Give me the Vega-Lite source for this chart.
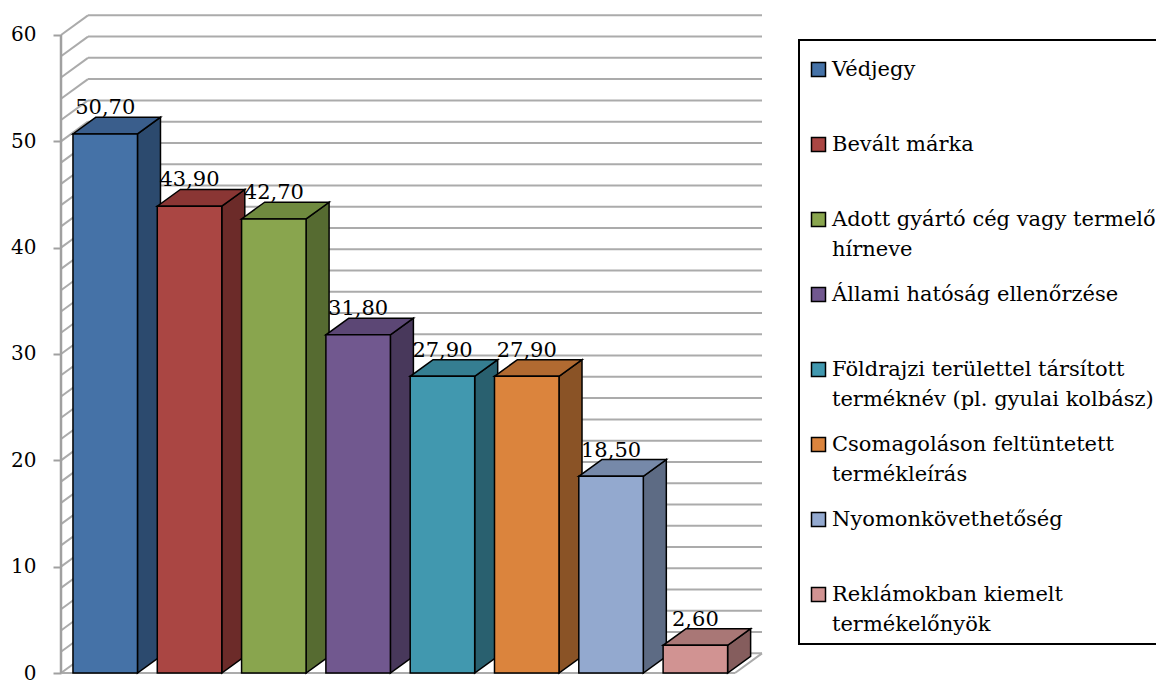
{
  "$schema": "https://vega.github.io/schema/vega-lite/v6.json",
  "width": 701,
  "height": 658,
  "autosize": {"type": "none"},
  "padding": {"left": 61, "top": 15, "right": 394, "bottom": 9},
  "background": "white",
  "datasets": {
    "tenyezok": [
      {"kategoria": "Védjegy", "ertek": 50.7},
      {"kategoria": "Bevált márka", "ertek": 43.9},
      {"kategoria": "Adott gyártó cég vagy termelő hírneve", "ertek": 42.7},
      {"kategoria": "Állami hatóság ellenőrzése", "ertek": 31.8},
      {"kategoria": "Földrajzi területtel társított terméknév (pl. gyulai kolbász)", "ertek": 27.9},
      {"kategoria": "Csomagoláson feltüntetett termékleírás", "ertek": 27.9},
      {"kategoria": "Nyomonkövethetőség", "ertek": 18.5},
      {"kategoria": "Reklámokban kiemelt termékelőnyök", "ertek": 2.6}
    ],
    "racs": [
      {"g": 0}, {"g": 2}, {"g": 4}, {"g": 6}, {"g": 8}, {"g": 10}, {"g": 12}, {"g": 14},
      {"g": 16}, {"g": 18}, {"g": 20}, {"g": 22}, {"g": 24}, {"g": 26}, {"g": 28}, {"g": 30},
      {"g": 32}, {"g": 34}, {"g": 36}, {"g": 38}, {"g": 40}, {"g": 42}, {"g": 44}, {"g": 46},
      {"g": 48}, {"g": 50}, {"g": 52}, {"g": 54}, {"g": 56}, {"g": 58}, {"g": 60}
    ],
    "egy": [{}]
  },
  "layer": [
    {
      "data": {"name": "racs"},
      "transform": [{"calculate": "datum.g + 1.85", "as": "gy"}],
      "mark": {"type": "rule", "stroke": "#ABABAB", "strokeWidth": 2},
      "encoding": {
        "x": {"datum": 0.178, "type": "quantitative", "axis": null,
              "scale": {"domain": [-0.142, 8.173], "nice": false, "zero": false}},
        "x2": {"datum": 8.173},
        "y": {"field": "gy", "type": "quantitative", "title": null,
              "axis": {"values": [0, 10, 20, 30, 40, 50, 60], "title": null},
              "scale": {"domain": [0, 61.88], "nice": false, "zero": false}}
      }
    },
    {
      "data": {"name": "racs"},
      "transform": [{"calculate": "datum.g + 1.85", "as": "gy"}],
      "mark": {"type": "rule", "stroke": "#ABABAB", "strokeWidth": 2},
      "encoding": {
        "x": {"datum": -0.142, "type": "quantitative", "axis": null},
        "x2": {"datum": 0.178},
        "y": {"field": "g", "type": "quantitative", "title": null,
              "axis": {"values": [0, 10, 20, 30, 40, 50, 60], "title": null}},
        "y2": {"field": "gy"}
      }
    },
    {
      "data": {"name": "egy"},
      "mark": {"type": "rule", "stroke": "#ABABAB", "strokeWidth": 2},
      "encoding": {
        "x": {"datum": -0.142, "type": "quantitative", "axis": null},
        "x2": {"datum": 7.853},
        "y": {"datum": 0, "type": "quantitative", "title": null,
              "axis": {"values": [0, 10, 20, 30, 40, 50, 60], "title": null}}
      }
    },
    {
      "data": {"name": "egy"},
      "mark": {"type": "rule", "stroke": "#ABABAB", "strokeWidth": 2},
      "encoding": {
        "x": {"datum": 7.853, "type": "quantitative", "axis": null},
        "x2": {"datum": 8.173},
        "y": {"datum": 0, "type": "quantitative", "title": null,
              "axis": {"values": [0, 10, 20, 30, 40, 50, 60], "title": null}},
        "y2": {"datum": 1.85}
      }
    },
    {
      "data": {"name": "egy"},
      "mark": {"type": "rule", "stroke": "#A0A0A0", "strokeWidth": 2.5},
      "encoding": {
        "x": {"datum": -0.142, "type": "quantitative", "axis": null},
        "y": {"datum": 0, "type": "quantitative", "title": null,
              "axis": {"values": [0, 10, 20, 30, 40, 50, 60], "title": null}},
        "y2": {"datum": 60}
      }
    },
    {
      "data": {"name": "tenyezok"},
      "transform": [
        {"window": [{"op": "row_number", "as": "sorszam"}]},
        {"calculate": "datum.sorszam - 1 + 0.765", "as": "jobb"},
        {"calculate": "[0, 1]", "as": "k"},
        {"flatten": ["k"]},
        {"calculate": "datum.jobb + datum.k * 0.273", "as": "sx"},
        {"calculate": "datum.k * 1.57", "as": "sy"},
        {"calculate": "datum.ertek + datum.k * 1.57", "as": "sy2"}
      ],
      "mark": {"type": "area", "stroke": "black", "strokeWidth": 1.5, "strokeJoin": "miter", "fillOpacity": 1},
      "encoding": {
        "x": {"field": "sx", "type": "quantitative", "axis": null},
        "y": {"field": "sy2", "type": "quantitative", "title": null,
              "axis": {"values": [0, 10, 20, 30, 40, 50, 60], "title": null}},
        "y2": {"field": "sy"},
        "detail": {"field": "kategoria"},
        "fill": {"field": "kategoria", "type": "nominal", "legend": null,
                 "scale": {"domain": ["Védjegy", "Bevált márka", "Adott gyártó cég vagy termelő hírneve", "Állami hatóság ellenőrzése", "Földrajzi területtel társított terméknév (pl. gyulai kolbász)", "Csomagoláson feltüntetett termékleírás", "Nyomonkövethetőség", "Reklámokban kiemelt termékelőnyök"],
                           "range": ["#2C4A6E", "#6C2B29", "#566B31", "#48385B", "#29606F", "#8A5326", "#5D6B84", "#855D5D"]}}
      }
    },
    {
      "data": {"name": "tenyezok"},
      "transform": [
        {"window": [{"op": "row_number", "as": "sorszam"}]},
        {"calculate": "[0, 1]", "as": "k"},
        {"flatten": ["k"]},
        {"calculate": "datum.sorszam - 1 + datum.k * 0.273", "as": "tx"},
        {"calculate": "datum.tx + 0.765", "as": "tx2"},
        {"calculate": "datum.ertek + datum.k * 1.57", "as": "ty"}
      ],
      "mark": {"type": "area", "orient": "horizontal", "stroke": "black", "strokeWidth": 1.5, "strokeJoin": "miter", "fillOpacity": 1},
      "encoding": {
        "y": {"field": "ty", "type": "quantitative", "title": null,
              "axis": {"values": [0, 10, 20, 30, 40, 50, 60], "title": null}},
        "x": {"field": "tx", "type": "quantitative", "axis": null},
        "x2": {"field": "tx2"},
        "detail": {"field": "kategoria"},
        "fill": {"field": "kategoria", "type": "nominal", "legend": null,
                 "scale": {"domain": ["Védjegy", "Bevált márka", "Adott gyártó cég vagy termelő hírneve", "Állami hatóság ellenőrzése", "Földrajzi területtel társított terméknév (pl. gyulai kolbász)", "Csomagoláson feltüntetett termékleírás", "Nyomonkövethetőség", "Reklámokban kiemelt termékelőnyök"],
                           "range": ["#3A5E8C", "#8A3634", "#6F8A3F", "#5C4775", "#357E91", "#B16A31", "#7689A9", "#A97776"]}}
      }
    },
    {
      "data": {"name": "tenyezok"},
      "transform": [
        {"window": [{"op": "row_number", "as": "sorszam"}]},
        {"calculate": "datum.sorszam - 1", "as": "bal"},
        {"calculate": "datum.bal + 0.765", "as": "jobb"}
      ],
      "mark": {"type": "rect", "stroke": "black", "strokeWidth": 1.5, "strokeJoin": "miter"},
      "encoding": {
        "x": {"field": "bal", "type": "quantitative", "axis": null},
        "x2": {"field": "jobb"},
        "y": {"field": "ertek", "type": "quantitative", "title": null,
              "axis": {"values": [0, 10, 20, 30, 40, 50, 60], "title": null}},
        "y2": {"datum": 0},
        "fill": {"field": "kategoria", "type": "nominal",
                 "scale": {"domain": ["Védjegy", "Bevált márka", "Adott gyártó cég vagy termelő hírneve", "Állami hatóság ellenőrzése", "Földrajzi területtel társított terméknév (pl. gyulai kolbász)", "Csomagoláson feltüntetett termékleírás", "Nyomonkövethetőség", "Reklámokban kiemelt termékelőnyök"],
                           "range": ["#4572A7", "#AA4643", "#89A54E", "#71588F", "#4198AF", "#DB843D", "#93A9CF", "#D19392"]},
                 "legend": {
                   "orient": "none", "legendX": 738, "legendY": 25, "title": " ",
                   "titleFontSize": 1, "titlePadding": 9,
                   "strokeColor": "black", "padding": 9,
                   "symbolType": "square", "symbolSize": 196, "symbolStrokeColor": "black", "symbolStrokeWidth": 1.5,
                   "labelFont": "DejaVu Serif", "labelFontSize": 21, "labelColor": "black", "labelLimit": 600,
                   "labelOffset": 3, "labelBaseline": "middle", "gridAlign": "all", "rowPadding": 23,
                   "labelExpr": "datum.label == 'Adott gyártó cég vagy termelő hírneve' ? ['Adott gyártó cég vagy termelő', 'hírneve'] : datum.label == 'Földrajzi területtel társított terméknév (pl. gyulai kolbász)' ? ['Földrajzi területtel társított', 'terméknév (pl. gyulai kolbász)'] : datum.label == 'Csomagoláson feltüntetett termékleírás' ? ['Csomagoláson feltüntetett', 'termékleírás'] : datum.label == 'Reklámokban kiemelt termékelőnyök' ? ['Reklámokban kiemelt', 'termékelőnyök'] : datum.label"
                 }}
      }
    },
    {
      "data": {"name": "tenyezok"},
      "transform": [
        {"window": [{"op": "row_number", "as": "sorszam"}]},
        {"calculate": "datum.sorszam - 1 + 0.3825", "as": "kozep"},
        {"calculate": "datum.ertek + 1.57", "as": "teteje"},
        {"calculate": "replace(format(datum.ertek, '.2f'), '.', ',')", "as": "cimke"}
      ],
      "mark": {"type": "text", "font": "DejaVu Serif", "fontSize": 21, "color": "black", "baseline": "alphabetic", "dy": -3},
      "encoding": {
        "x": {"field": "kozep", "type": "quantitative", "axis": null},
        "y": {"field": "teteje", "type": "quantitative", "title": null,
              "axis": {"values": [0, 10, 20, 30, 40, 50, 60], "title": null}},
        "text": {"field": "cimke"}
      }
    }
  ],
  "resolve": {"scale": {"fill": "independent"}},
  "config": {
    "view": {"stroke": null},
    "axisY": {"domain": false, "grid": false, "ticks": true, "tickSize": 8, "tickColor": "#A0A0A0", "tickWidth": 2,
              "labelFont": "DejaVu Serif", "labelFontSize": 20, "labelColor": "black", "labelPadding": 17},
    "legend": {"strokeWidth": 2},
    "style": {"guide-label": {"lineHeight": 30}}
  }
}
